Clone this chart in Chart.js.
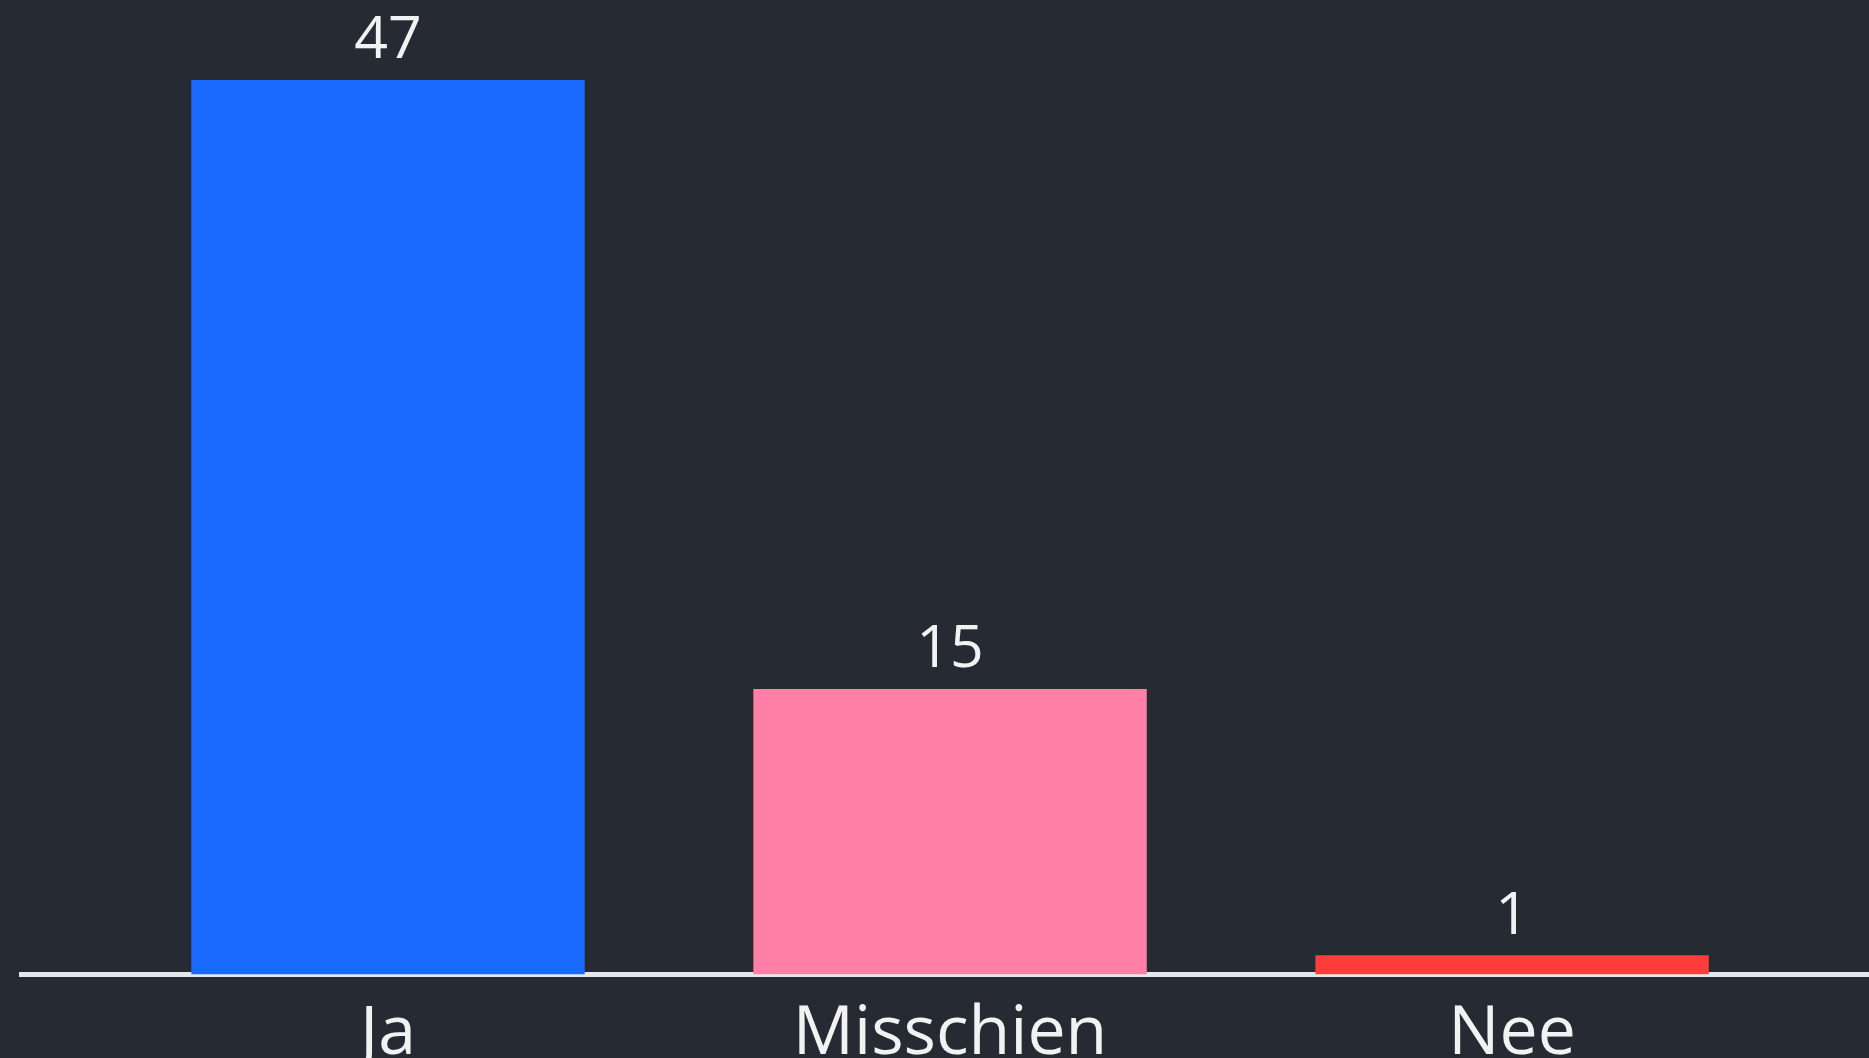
<!DOCTYPE html>
<html>
<head>
<meta charset="utf-8">
<script src="https://cdn.jsdelivr.net/npm/chart.js@4.4.0/dist/chart.umd.min.js"></script>
<style>
  html, body { margin: 0; padding: 0; background: #252a33; overflow: hidden; }
  #wrap { width: 1869px; height: 1058px; }
</style>
</head>
<body>
<div id="wrap"><canvas id="answers-chart"></canvas></div>
<script>
const categories = ['Ja', 'Misschien', 'Nee'];
const counts = [47, 15, 1];
const barColors = ['#1a6aff', '#ff7fa6', '#ff3c3c'];

// waarden boven de staven
const valueLabels = {
  id: 'valueLabels',
  afterDatasetsDraw(chart) {
    const ctx = chart.ctx;
    const meta = chart.getDatasetMeta(0);
    ctx.save();
    ctx.fillStyle = '#f2f2f2';
    ctx.font = '59px "Open Sans", sans-serif';
    ctx.textAlign = 'center';
    ctx.textBaseline = 'bottom';
    meta.data.forEach((bar, i) => {
      ctx.fillText(String(counts[i]), bar.x, bar.y - 9);
    });
    ctx.restore();
  }
};

const ctx = document.getElementById('answers-chart').getContext('2d');
new Chart(ctx, {
  type: 'bar',
  data: {
    datasets: [{
      data: counts.map((v, i) => ({ x: i, y: v })),
      backgroundColor: barColors,
      borderWidth: 0,
      categoryPercentage: 1,
      barPercentage: 0.7
    }]
  },
  options: {
    responsive: true,
    maintainAspectRatio: false,
    animation: false,
    // negatieve ondermarge: de asbijschriften vallen onderaan deels weg
    layout: { padding: { left: 21, right: 0, top: 0, bottom: -36 } },
    plugins: {
      legend: { display: false },
      tooltip: { enabled: false }
    },
    scales: {
      x: {
        type: 'linear',
        offset: false,
        min: -0.653,
        max: 2.635,
        z: 1,
        afterBuildTicks: scale => {
          scale.ticks = categories.map((c, i) => ({ value: i }));
        },
        grid: { display: false, drawTicks: false },
        border: { display: true, color: '#e4e6ea', width: 5 },
        ticks: {
          padding: 19,
          maxRotation: 0,
          color: '#f2f2f2',
          font: { family: '"Open Sans", sans-serif', size: 68 },
          callback: v => categories[v] ?? ''
        }
      },
      y: {
        display: false,
        min: 0,
        max: 51.2
      }
    }
  },
  plugins: [valueLabels]
});
</script>
</body>
</html>
